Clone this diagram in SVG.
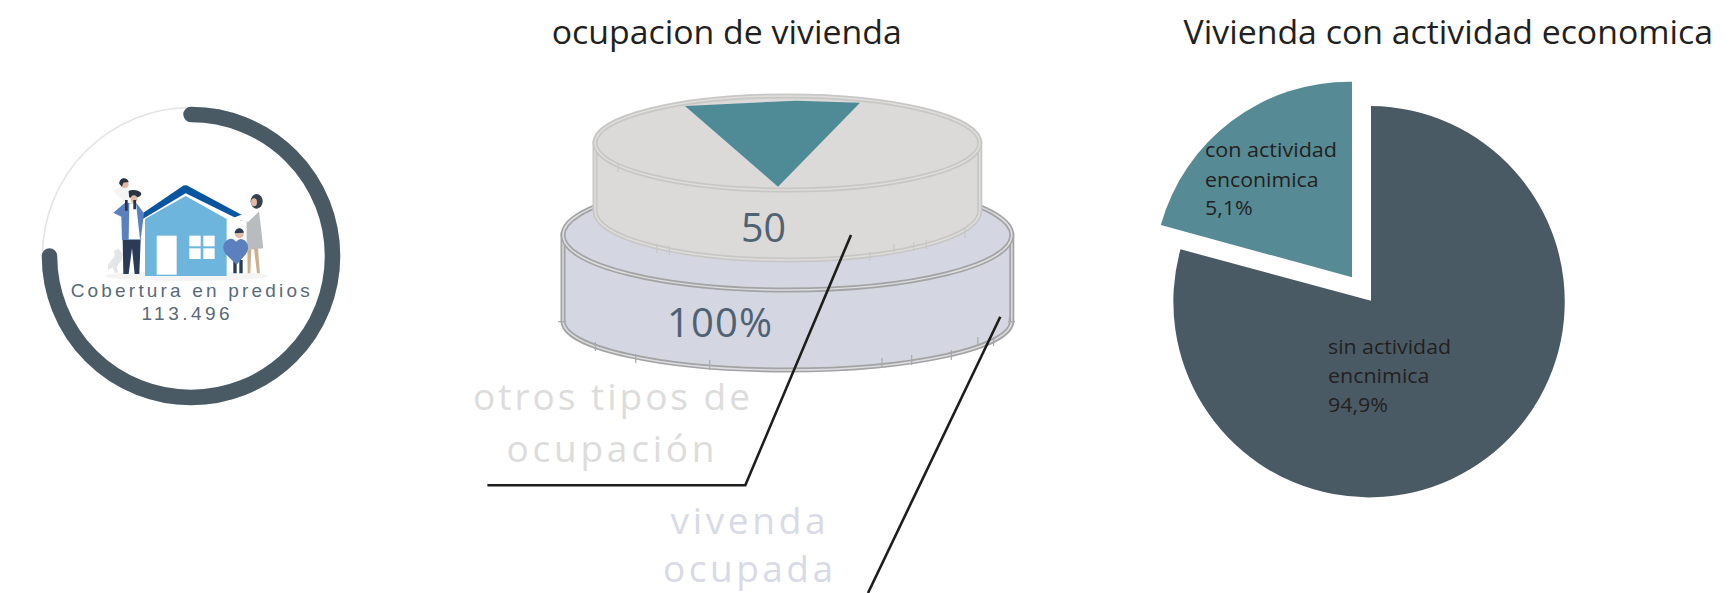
<svg xmlns="http://www.w3.org/2000/svg" width="1734" height="593" viewBox="0 0 1734 593">
<style>
text{font-family:"Open Sans","Noto Sans","Liberation Sans",sans-serif}
.title{font-size:33px;fill:#231f20}
.lab{font-size:20.500px;fill:#231f20}
.val{font-size:40px;fill:#4f6272}
.cap{font-size:37px}
.ring{font-family:"Liberation Sans",sans-serif;font-size:19px;fill:#586a78}
.side1{fill:#dbdad8}
.e1o{fill:#dbdad8;stroke:#c8c7c5;stroke-width:5}
.e1i{fill:none;stroke:#dfdedc;stroke-width:1.5}
.side2{fill:#d4d6e2}
.e2o{fill:#d4d6e2;stroke:#a3a3a3;stroke-width:5}
.e2i{fill:none;stroke:#dcdde2;stroke-width:1.5}
.conn{fill:none;stroke:#1d1d1b;stroke-width:2.6}
.tick2{stroke:#a9a9a9;stroke-width:1.2}
.tick1{stroke:#c8c7c5;stroke-width:1.2}
</style>
<rect width="1734" height="593" fill="#fff"/>

<g id="cobertura">
<circle cx="191" cy="256" r="148.5" fill="none" stroke="#e4e4e4" stroke-width="1.6"/>
<path d="M191 114.5A141.500 141.500 0 1 1 49.500 256" fill="none" stroke="#4a5a65" stroke-width="15.500" stroke-linecap="round"/>
<g id="familia" transform="translate(100 170) scale(.3333)">
<ellipse cx="260" cy="318" rx="245" ry="15" fill="#f4f4f2"/>
<path d="M128 130L245 50Q256 42 268 50L426 135V153L257 70L128 147Z" fill="#0a55a0"/>
<path d="M135 147L257 78L380 147V318H135Z" fill="#6db5dd"/>
<rect x="170" y="197" width="60" height="117" fill="#fff"/>
<g fill="#fff"><rect x="268" y="197" width="34" height="32"/><rect x="310" y="197" width="34" height="32"/><rect x="268" y="235" width="34" height="32"/><rect x="310" y="235" width="34" height="32"/></g>
<path d="M24 285L44 258L42 242L56 236L68 252L66 268L50 290L54 308H44L38 292L24 300Z" fill="#e3e6e8"/>
<path d="M68 210H122L118 312H104L96 235L86 312H70Z" fill="#2b3b55"/>
<path d="M40 128L75 98L110 100L132 130L122 210H66L64 140Z" fill="#5a80bd"/>
<path d="M88 100L108 100L120 208H86Z" fill="#fff"/>
<ellipse cx="100" cy="72" rx="24" ry="12" fill="#2b3343"/>
<ellipse cx="102" cy="88" rx="10" ry="12" fill="#e2b9a2"/>
<path d="M40 62L60 52H85L88 90L70 95Z" fill="#f4f4f4"/>
<circle cx="74" cy="42" r="12" fill="#e2b9a2"/>
<path d="M58 42A14 14 0 0 1 86 36L70 38L66 50Z" fill="#2b3343"/>
<path d="M75 90h8v32h-8zM100 90h8v28h-8z" fill="#2b3343"/>
<path d="M398 145L440 128L470 110L478 130L490 235L440 240L440 155Z" fill="#b9bcbf"/>
<path d="M398 145L440 128L470 110L476 125L445 155L438 155Z" fill="#fff"/>
<ellipse cx="470" cy="94" rx="18" ry="22" fill="#34404e"/>
<ellipse cx="462" cy="97" rx="9" ry="12" fill="#e2b9a2"/>
<path d="M442 238h12l-3 72h-8zM462 236h12l6 74h-9z" fill="#cdb08f"/>
<path d="M400 270h10v40h-10zM418 270h10v40h-10z" fill="#2b3b55"/>
<circle cx="418" cy="192" r="13" fill="#e2b9a2"/>
<path d="M404 190A14 14 0 0 1 432 188Z" fill="#2b3b55"/>
<path d="M410 284L375 250Q362 225 382 210Q398 200 408 215Q420 200 436 212Q452 230 438 252Z" fill="#5a80bd"/>
</g>
<text class="ring"><tspan x="70.7" y="297" textLength="239" lengthAdjust="spacing">Cobertura en predios</tspan><tspan x="141.5" y="319.500" textLength="88" lengthAdjust="spacing">113.496</tspan></text>
</g>

<g id="ocupacion">
<text class="title" x="551.7" y="44" textLength="350" lengthAdjust="spacingAndGlyphs">ocupacion de vivienda</text>
<g id="disco-vivienda">
<path class="side2" d="M563 235V321A224.400 49 0 0 0 1011.800 321V235Z" stroke="#a3a3a3" stroke-width="5"/>
<path d="M563 235V321A224.400 49 0 0 0 1011.800 321V235" fill="none" stroke="#dcdde2" stroke-width="1.5"/>
<ellipse class="e2o" cx="787.4" cy="235" rx="224.400" ry="55"/>
<ellipse class="e2i" cx="787.4" cy="235" rx="224.400" ry="55"/>
<g class="tick2">
<path d="M595.400 342v9M635.700 354v9M709.700 360v10M882 358v10M911.700 355v10M951.300 350v10M977.800 337v9M993.600 337v9M1009.400 317v9M558 321.700h8M1008 321.700h7"/>
</g>
</g>
<g id="disco-otros">
<path class="side1" d="M595 143V211A192.400 49 0 0 0 979.800 211V143Z" stroke="#c8c7c5" stroke-width="5"/>
<path d="M595 143V211A192.400 49 0 0 0 979.800 211V143" fill="none" stroke="#dfdedc" stroke-width="1.5"/>
<ellipse class="e1o" cx="787.4" cy="143" rx="192.400" ry="47"/>
<ellipse class="e1i" cx="787.4" cy="143" rx="192.400" ry="47"/>
<g class="tick1">
<path d="M656.700 244v9M669.300 246v9M869.800 252v9M894 244v9M913.700 242v9M926.300 240v9M965 229v9M618 164v8"/>
</g>
<path d="M685 106L796 100.700L860 102.700L778 186.700Z" fill="#4f8a97"/>
</g>
<text class="val" x="741" y="242" textLength="45" lengthAdjust="spacingAndGlyphs">50</text>
<text class="val" x="667" y="337" textLength="105" lengthAdjust="spacing">100%</text>
<text class="cap" fill="#dddcdb"><tspan x="473" y="410" textLength="277" lengthAdjust="spacing">otros tipos de</tspan><tspan x="506.500" y="461.700" textLength="208" lengthAdjust="spacing">ocupación</tspan></text>
<text class="cap" fill="#d8dae6"><tspan x="670.500" y="534" textLength="155" lengthAdjust="spacing">vivenda</tspan><tspan x="663" y="582" textLength="170" lengthAdjust="spacing">ocupada</tspan></text>
</g>

<g id="actividad">
<text class="title" x="1183.6" y="44" textLength="529.500" lengthAdjust="spacingAndGlyphs">Vivienda con actividad economica</text>
<g id="sin-actividad">
<path d="M1371 300.700V106A195.700 195.700 0 1 1 1180.500 249.300Z" fill="#4a5a65"/>
<text class="lab"><tspan x="1328" y="354.300" textLength="123" lengthAdjust="spacingAndGlyphs">sin actividad</tspan><tspan x="1328" y="382.700" textLength="101.500" lengthAdjust="spacingAndGlyphs">encnimica</tspan><tspan x="1328" y="412" textLength="60" lengthAdjust="spacingAndGlyphs">94,9%</tspan></text>
</g>
<g id="con-actividad">
<path d="M1352 277.300V81.700A195.700 195.700 0 0 0 1160.800 225Z" fill="#568a94"/>
<text class="lab"><tspan x="1205" y="157.300" textLength="132" lengthAdjust="spacingAndGlyphs">con actividad</tspan><tspan x="1205" y="186.700" textLength="113.600" lengthAdjust="spacingAndGlyphs">enconimica</tspan><tspan x="1205" y="215" textLength="47.700" lengthAdjust="spacingAndGlyphs">5,1%</tspan></text>
</g>
</g>

<g id="connectors">
<path class="conn" d="M851 235L745.300 485.300H487.400"/>
<path class="conn" d="M1000.300 316.700L868 593"/>
</g>
</svg>
